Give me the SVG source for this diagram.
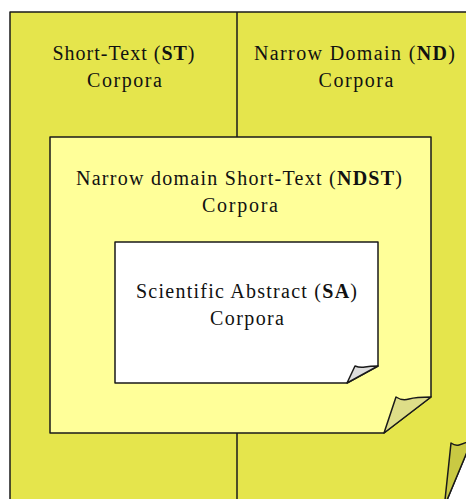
<svg xmlns="http://www.w3.org/2000/svg" width="466" height="499" viewBox="0 0 466 499">
<style>
.ln{stroke:#1a1a1a;stroke-width:1.5;stroke-linejoin:round}
.t{font-family:"Liberation Serif","DejaVu Serif",serif;font-size:20px;fill:#111;text-anchor:middle}
.b{font-weight:bold}
</style>
<rect width="466" height="499" fill="#ffffff"/>
<g id="outer">
<path class="ln" d="M10,500 V12 H472 V440 L447,500 Z" fill="#e5e54c"/>
<path class="ln" d="M445,500 L451,443 Q455,446 459,445 T472,440 L447,500 Z" fill="#c9c943"/>
</g>
<g id="connectors">
<line class="ln" x1="237" y1="12" x2="237" y2="499"/>
</g>
<g id="st">
<text class="t" x="123.5" y="60" textLength="142" lengthAdjust="spacing">Short-Text (<tspan class="b">ST</tspan>)</text>
<text class="t" x="124.5" y="87" textLength="75" lengthAdjust="spacing">Corpora</text>
</g>
<g id="nd">
<text class="t" x="354.5" y="60" textLength="201" lengthAdjust="spacing">Narrow Domain (<tspan class="b">ND</tspan>)</text>
<text class="t" x="356" y="87" textLength="75" lengthAdjust="spacing">Corpora</text>
</g>
<g id="ndst">
<path class="ln" d="M50,137 H431 V397 L384,433 H50 Z" fill="#ffff99"/>
<path class="ln" d="M384,433 L396,397 Q402,401 409,399 T431,397 Z" fill="#dede88"/>
<text class="t" x="239" y="185" textLength="326" lengthAdjust="spacing">Narrow domain Short-Text (<tspan class="b">NDST</tspan>)</text>
<text class="t" x="240" y="212" textLength="76" lengthAdjust="spacing">Corpora</text>
</g>
<g id="sa">
<path class="ln" d="M115,242 H378 V366 L347,383 H115 Z" fill="#ffffff"/>
<path class="ln" d="M347,383 L355,366 Q360,368 365,367 T378,366 Z" fill="#dddddd"/>
<text class="t" x="246.5" y="298" textLength="221" lengthAdjust="spacing">Scientific Abstract (<tspan class="b">SA</tspan>)</text>
<text class="t" x="247" y="325" textLength="74" lengthAdjust="spacing">Corpora</text>
</g>
</svg>
